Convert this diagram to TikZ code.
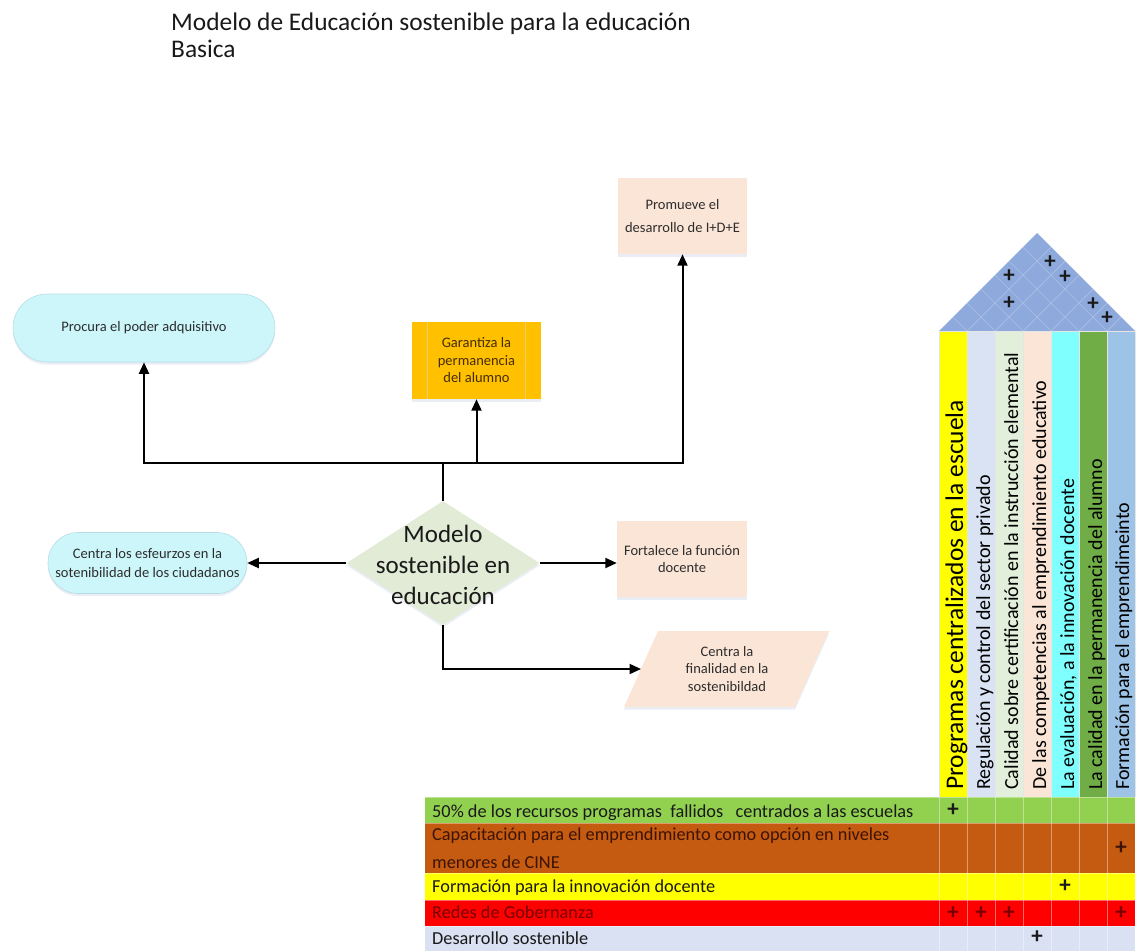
\documentclass[tikz,border=0pt]{standalone}
\usepackage{fontspec}
\setmainfont{Carlito}
\usetikzlibrary{shapes.geometric,shadows,arrows.meta}
\definecolor{cyanbox}{RGB}{204,246,250}
\definecolor{cyanedge}{RGB}{185,220,228}
\definecolor{peach}{RGB}{251,229,214}
\definecolor{goldbox}{RGB}{255,192,0}
\definecolor{goldline}{RGB}{240,205,110}
\definecolor{diagreen}{RGB}{226,235,214}
\definecolor{txtgray}{RGB}{45,45,45}
\definecolor{txtbrown}{RGB}{70,45,0}
\definecolor{shadowblue}{RGB}{150,170,200}
\definecolor{roofblue}{RGB}{142,169,219}
\definecolor{roofgridc}{RGB}{172,193,232}
\definecolor{cA}{RGB}{255,255,0}
\definecolor{cB}{RGB}{218,227,243}
\definecolor{cC}{RGB}{226,239,218}
\definecolor{cD}{RGB}{251,229,214}
\definecolor{cE}{RGB}{128,255,255}
\definecolor{cF}{RGB}{112,173,71}
\definecolor{cG}{RGB}{157,195,230}
\definecolor{rA}{RGB}{146,208,80}
\definecolor{rB}{RGB}{197,90,17}
\definecolor{rC}{RGB}{255,255,0}
\definecolor{rD}{RGB}{255,0,0}
\definecolor{rE}{RGB}{217,225,242}
\definecolor{rBtxt}{RGB}{60,20,5}
\definecolor{rDtxt}{RGB}{120,0,0}
\begin{document}
\begin{tikzpicture}[x=1pt,y=-1pt,
  every node/.style={inner sep=0pt},
  shad/.style={drop shadow={shadow xshift=0pt,shadow yshift=-2.5pt,opacity=.2,fill=shadowblue}},
  ftxt/.style={text=txtgray,font=\fontsize{14.5}{17.5}\selectfont,align=center},
  stad/.style={ftxt,shad,fill=cyanbox,draw=cyanedge,line width=0.6pt},
  pbox/.style={ftxt,shad,fill=peach},
  conn/.style={line width=2pt},
  arr/.style={line width=2pt,-{Triangle[length=11.5pt,width=10pt]}},
  coltext/.style={rotate=90,anchor=base west,inner sep=0pt,text=black,font=\fontsize{20}{20}\selectfont},
  rowtext/.style={inner sep=0pt,font=\fontsize{18.3}{27.5}\selectfont},
  plus/.style={font=\bfseries\fontsize{23}{23}\selectfont,text=black!90},
  roofgrid/.style={draw=roofgridc,line width=0.7pt},
  gridw/.style={draw=white,draw opacity=.4,line width=0.8pt}]
\useasboundingbox (0,0) rectangle (1136,951);

% title
\node[anchor=north west,align=left,font=\fontsize{25.4}{27}\selectfont,text={black!90}] (title) at (171,13)
  {Modelo de Educación sostenible para la educación\\Basica};

% flowchart nodes
\node[stad,minimum width=262pt,minimum height=68pt,rounded corners=34pt] (proc) at (144,328) {Procura el poder adquisitivo};
\node[ftxt,shad,fill=goldbox,text=txtbrown,minimum width=129pt,minimum height=77pt] (gar) at (476.5,360.5) {Garantiza la\\permanencia\\del alumno};
\draw[goldline,line width=0.7pt] ([xshift=16pt]gar.north west) -- ([xshift=16pt]gar.south west)
  ([xshift=-16pt]gar.north east) -- ([xshift=-16pt]gar.south east);
\node[pbox,minimum width=129pt,minimum height=76pt] (prom) at (682.5,216) {Promueve el\\[5pt]desarrollo de I+D+E};
\node[diamond,shad,fill=diagreen,minimum width=193pt,minimum height=124pt,inner sep=0pt] (d) at (443,563) {};
\node[text=black!90,font=\fontsize{25}{31}\selectfont,align=center] (dt) at (443,565) {Modelo\\sostenible en\\educación};
\node[stad,minimum width=199pt,minimum height=61pt,rounded corners=30pt,font=\fontsize{14.5}{19}\selectfont] (esf) at (147.5,563) {Centra los esfeurzos en la\\sotenibilidad de los ciudadanos};
\node[pbox,minimum width=130pt,minimum height=76pt] (fort) at (682,559) {Fortalece la función\\docente};
\path[fill=peach,shad] (658,631) -- (829,631) -- (795,707) -- (624,707) -- cycle;
\node[ftxt] (fin) at (727,669) {Centra la\\finalidad en la\\sostenibildad};
\coordinate (finin) at (641,669);

% connectors
\coordinate (j) at (443,463);
\draw[conn] (d.north) -- (j);
\draw[arr] (j) -| (proc);
\draw[arr] (j) -| (prom);
\draw[arr] (gar.south |- j) -- (gar.south);
\draw[arr] (d.west) -- (esf.east);
\draw[arr] (d.east) -- (d.east -| fort.west);
\draw[arr] (d.south) |- (finin);

% roof
\fill[roofblue] (939,331) -- (1037,233) -- (1135,331) -- cycle;
\foreach \k in {1,...,6}
  \draw[roofgrid] ({939+14*\k},{331-14*\k}) -- ({939+28*\k},331) -- ({939+28*\k+14*(7-\k)},{331-14*(7-\k)});
\node[plus] (q1) at (1009,276) {+};
\node[plus] (q2) at (1009,303) {+};
\node[plus] (q3) at (1050,262) {+};
\node[plus] (q4) at (1065,277) {+};
\node[plus] (q5) at (1093,304) {+};
\node[plus] (q6) at (1107,318) {+};

% columns
\fill[cA] (939,331) rectangle (967,797);
\fill[cB] (967,331) rectangle (995,797);
\fill[cC] (995,331) rectangle (1023,797);
\fill[cD] (1023,331) rectangle (1051,797);
\fill[cE] (1051,331) rectangle (1079,797);
\fill[cF] (1079,331) rectangle (1107,797);
\fill[cG] (1107,331) rectangle (1135,797);
\foreach \k in {0,...,7}
  \draw[draw=white!80!gray,line width=0.6pt] ({939+28*\k},331) -- ({939+28*\k},797);
\draw[draw=white!80!gray,line width=0.6pt] (939,331) -- (1135,331);
\node[coltext,font=\fontsize{25.4}{25}\selectfont] (h1) at (963,790) {Programas centralizados en la escuela};
\node[coltext] (h2) at (990,790) {Regulación y control del sector privado};
\node[coltext] (h3) at (1018,790) {Calidad sobre certificación en la instrucción elemental};
\node[coltext] (h4) at (1046,790) {De las competencias al emprendimiento educativo};
\node[coltext] (h5) at (1074,790) {La evaluación, a la innovación docente};
\node[coltext] (h6) at (1102,790) {La calidad en la permanencia del alumno};
\node[coltext] (h7) at (1129,790) {Formación para el emprendimeinto};

% rows
\fill[rA] (425,797) rectangle (1135,823);
\fill[rB] (425,823) rectangle (1135,873);
\fill[rC] (425,873) rectangle (1135,900);
\fill[rD] (425,900) rectangle (1135,926);
\fill[rE] (425,926) rectangle (1135,951);
\foreach \k in {0,...,7}
  \draw[gridw] ({939+28*\k},797) -- ({939+28*\k},951);
\foreach \yy in {797,823,873,900,926}
  \draw[gridw] (425,\yy) -- (1135,\yy);
\node[rowtext,anchor=base west,text=black!90] (r1) at (432,817) {50\% de los recursos programas\ \ fallidos\ \ \ centrados a las escuelas};
\node[rowtext,anchor=north west,align=left,text=rBtxt] (r2) at (432,828) {Capacitación para el emprendimiento como opción en niveles\\menores de CINE};
\node[rowtext,anchor=base west,text=black!90] (r3) at (432,892) {Formación para la innovación docente};
\node[rowtext,anchor=base west,text=rDtxt] (r4) at (432,918) {Redes de Gobernanza};
\node[rowtext,anchor=base west,text=black!90] (r5) at (432,944) {Desarrollo sostenible};

\node[plus] (m1) at (953,810) {+};
\node[plus,text=rBtxt] (m2) at (1121,848) {+};
\node[plus] (m3) at (1065,886) {+};
\node[plus,text=rDtxt] (m4) at (953,913) {+};
\node[plus,text=rDtxt] (m5) at (981,913) {+};
\node[plus,text=rDtxt] (m6) at (1009,913) {+};
\node[plus,text=rDtxt] (m7) at (1121,913) {+};
\node[plus] (m8) at (1037,937) {+};
\end{tikzpicture}
\end{document}
